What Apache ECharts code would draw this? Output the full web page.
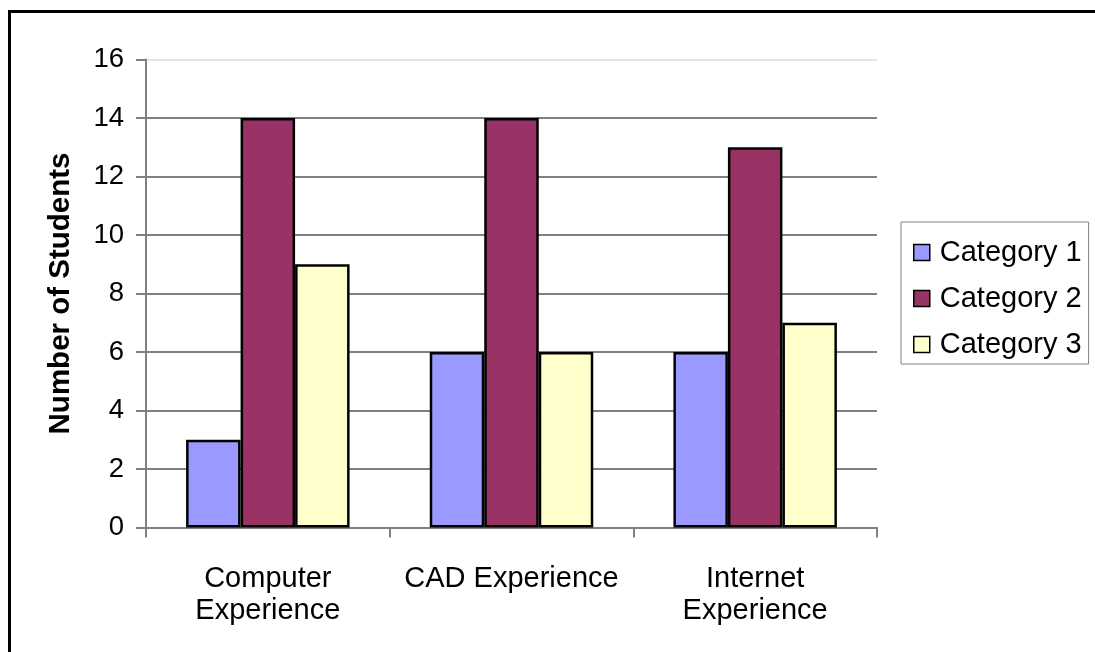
<!DOCTYPE html>
<html>
<head>
<meta charset="utf-8">
<script src="https://cdn.jsdelivr.net/npm/echarts@6/dist/echarts.min.js"></script>
<style>
  html, body { margin: 0; padding: 0; background: #fff; }
  #chart { width: 1095px; height: 652px; }
</style>
</head>
<body>
<div id="chart"></div>
<script>
// Survey groups along the x axis
const groups = ['Computer\nExperience', 'CAD Experience', 'Internet\nExperience'];

// Student counts per category
const category1 = [3, 6, 6];
const category2 = [14, 14, 13];
const category3 = [9, 6, 7];

const seriesNames = ['Category 1', 'Category 2', 'Category 3'];
const seriesValues = [category1, category2, category3];
const seriesColors = ['#9999FF', '#993366', '#FFFFCC'];

const FONT = '"Liberation Sans", Arial, sans-serif';

// Gridline colours by tick index (0..16 step 2); the top line is faint
const gridColors = ['#808080', '#808080', '#808080', '#808080', '#808080',
                    '#808080', '#808080', '#808080', '#e6e6e6'];

const chart = echarts.init(document.getElementById('chart'), null, { renderer: 'canvas' });

chart.setOption({
  animation: false,
  backgroundColor: '#ffffff',
  textStyle: { fontFamily: FONT, color: '#000' },
  grid: { left: 146, top: 59.5, right: 218, bottom: 124.5, containLabel: false },
  legend: {
    orient: 'vertical',
    left: 901,
    top: 222,
    padding: [16, 7, 5, 12],
    itemGap: 17,
    itemWidth: 16,
    itemHeight: 16,
    borderColor: '#808080',
    borderWidth: 1,
    icon: 'rect',
    textStyle: { fontFamily: FONT, fontSize: 29, color: '#000', lineHeight: 28, padding: [0, 0, 0, 5] },
    itemStyle: { borderColor: '#000', borderWidth: 1.5 },
    data: seriesNames
  },
  xAxis: {
    type: 'category',
    data: groups,
    axisLine: { lineStyle: { color: '#808080', width: 2 } },
    axisTick: { show: true, length: 10, alignWithLabel: false, lineStyle: { color: '#808080', width: 2 } },
    axisLabel: { fontFamily: FONT, fontSize: 29, color: '#000', margin: 35, lineHeight: 32, interval: 0 }
  },
  yAxis: {
    type: 'value',
    min: 0,
    max: 16,
    interval: 2,
    name: 'Number of Students',
    nameLocation: 'middle',
    nameGap: 70,
    nameRotate: 90,
    nameTextStyle: { fontFamily: FONT, fontSize: 29.5, fontWeight: 'bold', color: '#000' },
    axisLine: { show: true, lineStyle: { color: '#808080', width: 2 } },
    axisTick: { show: true, length: 10, lineStyle: { color: '#808080', width: 2 } },
    axisLabel: { fontFamily: FONT, fontSize: 27.5, color: '#000', margin: 22 },
    splitLine: { show: true, lineStyle: { color: gridColors, width: 2 } }
  },
  series: seriesNames.map((name, i) => ({
    name: name,
    type: 'bar',
    data: seriesValues[i],
    barWidth: 54.5,
    barGap: '0%',
    itemStyle: { color: seriesColors[i], borderColor: '#000', borderWidth: 2.5 }
  })),
  graphic: [
    { type: 'line', shape: { x1: 8, y1: 11.5, x2: 1095, y2: 11.5 }, style: { stroke: '#000', lineWidth: 3 } },
    { type: 'line', shape: { x1: 9.5, y1: 10, x2: 9.5, y2: 652 }, style: { stroke: '#000', lineWidth: 3 } }
  ]
});
</script>
</body>
</html>
